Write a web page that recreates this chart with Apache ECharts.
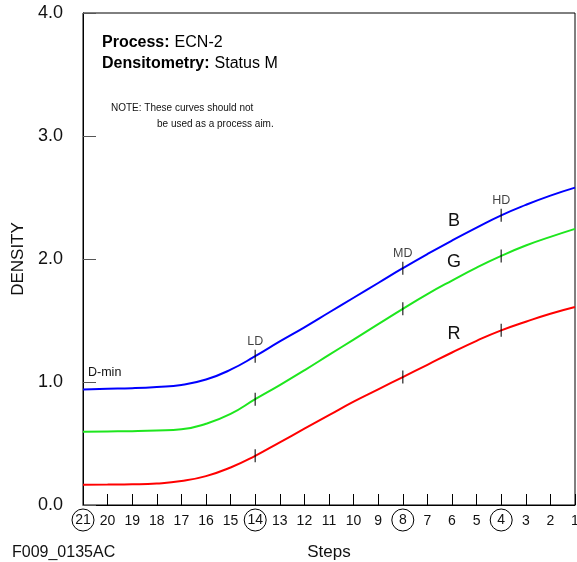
<!DOCTYPE html>
<html>
<head>
<meta charset="utf-8">
<title>ECN-2 Status M</title>
<script src="https://cdn.jsdelivr.net/npm/echarts@6/dist/echarts.min.js"></script>
<style>
  html, body { margin: 0; padding: 0; background: #fff; }
  #chart { width: 577px; height: 562px; }
</style>
</head>
<body>
<div id="chart"></div>
<script>
  // steps run 21 -> 1 (left to right)
  const steps = [21, 20, 19, 18, 17, 16, 15, 14, 13, 12, 11, 10, 9, 8, 7, 6, 5, 4, 3, 2, 1];
  const blueD = [0.94, 0.945, 0.95, 0.96, 0.976, 1.02, 1.10, 1.21, 1.33, 1.445, 1.565, 1.685, 1.805, 1.925, 2.04, 2.15, 2.255, 2.355, 2.44, 2.515, 2.58];
  const greenD = [0.596, 0.598, 0.60, 0.605, 0.615, 0.66, 0.74, 0.86, 0.975, 1.095, 1.22, 1.345, 1.47, 1.595, 1.715, 1.825, 1.93, 2.025, 2.11, 2.18, 2.245];
  const redD = [0.165, 0.166, 0.168, 0.175, 0.195, 0.235, 0.305, 0.40, 0.51, 0.62, 0.73, 0.84, 0.94, 1.04, 1.14, 1.24, 1.335, 1.42, 1.49, 1.555, 1.61];
  const markSteps = [14, 8, 4];
  const markNames = ['LD', 'MD', 'HD'];
  const circled = [21, 14, 8, 4];
  const labelStep = 6;

  const font = 'Liberation Sans, Arial, Helvetica, sans-serif';
  const chart = echarts.init(document.getElementById('chart'));

  const pairs = arr => steps.map((s, i) => [s, arr[i]]);
  const valAt = (arr, s) => arr[steps.indexOf(s)];

  function curve (name, arr, color, txt, dy) {
    return {
      name: name,
      type: 'line',
      data: pairs(arr),
      smooth: 0.5,
      symbol: 'none',
      lineStyle: { color: color, width: 2 },
      z: 3,
      markPoint: {
        symbol: 'circle',
        symbolSize: 0,
        silent: true,
        data: [{
          coord: [labelStep, valAt(arr, labelStep)],
          label: {
            show: true,
            formatter: txt,
            offset: [2, dy],
            fontSize: 18,
            fontFamily: font,
            color: '#111'
          }
        }]
      }
    };
  }

  // short vertical ticks across the curves at LD / MD / HD
  function ticks (arr, withNames) {
    return {
      type: 'scatter',
      symbol: 'rect',
      symbolSize: [1.3, 13],
      itemStyle: { color: '#000' },
      z: 5,
      silent: true,
      data: markSteps.map((s, i) => ({
        value: [s, valAt(arr, s)],
        label: withNames ? {
          show: true,
          position: 'top',
          distance: 2,
          formatter: markNames[i],
          fontSize: 12.5,
          fontFamily: font,
          color: '#111'
        } : { show: false }
      }))
    };
  }

  const labelRich = {
    n: { width: 24, height: 24, align: 'center', fontSize: 14, fontFamily: font, color: '#111' },
    c: { width: 22, height: 22, align: 'center', fontSize: 14, fontFamily: font, color: '#111',
         borderColor: '#000', borderWidth: 1, borderRadius: 12 }
  };

  chart.setOption({
    animation: false,
    backgroundColor: '#fff',
    textStyle: { fontFamily: font },
    title: {
      left: 102,
      top: 32,
      padding: 0,
      text: '{b|Process:} {n|ECN-2}\n{b|Densitometry:} {n|Status M}',
      textStyle: {
        fontWeight: 'normal',
        rich: {
          b: { fontSize: 16, fontWeight: 'bold', fontFamily: font, color: '#000', lineHeight: 21 },
          n: { fontSize: 16, fontWeight: 'normal', fontFamily: font, color: '#000', lineHeight: 21 }
        }
      }
    },
    graphic: [
      { type: 'text', left: 111, top: 103,
        style: { text: 'NOTE: These curves should not', fontSize: 10, fontFamily: font, fill: '#111' } },
      { type: 'text', left: 157, top: 119,
        style: { text: 'be used as a process aim.', fontSize: 10, fontFamily: font, fill: '#111' } },
      { type: 'text', left: 88, top: 366,
        style: { text: 'D-min', fontSize: 12.5, fontFamily: font, fill: '#111' } },
      { type: 'text', left: 12, top: 545,
        style: { text: 'F009_0135AC', fontSize: 16, fontFamily: font, fill: '#111' } }
    ],
    grid: {
      left: 83,
      right: 2,
      top: 13,
      bottom: 57,
      outerBoundsMode: 'none',
      containLabel: false,
      show: true,
      borderColor: '#000',
      borderWidth: 1,
      backgroundColor: 'transparent'
    },
    xAxis: {
      type: 'value',
      min: 1,
      max: 21,
      interval: 1,
      inverse: true,
      name: 'Steps',
      nameLocation: 'middle',
      nameGap: 39,
      nameTextStyle: { fontSize: 17, fontFamily: font, color: '#111' },
      axisLine: { lineStyle: { color: '#000', width: 1 } },
      axisTick: { inside: true, length: 11, lineStyle: { color: '#000' } },
      splitLine: { show: false },
      axisLabel: {
        margin: 4,
        showMinLabel: true,
        showMaxLabel: true,
        hideOverlap: false,
        formatter: v => circled.indexOf(v) >= 0 ? '{c|' + v + '}' : '{n|' + v + '}',
        rich: labelRich
      }
    },
    yAxis: {
      type: 'value',
      min: 0,
      max: 4,
      interval: 1,
      name: 'DENSITY',
      nameLocation: 'middle',
      nameRotate: 90,
      nameGap: 56,
      nameTextStyle: { fontSize: 17, fontFamily: font, color: '#111' },
      axisLine: { lineStyle: { color: '#000', width: 1 } },
      axisTick: { inside: true, length: 13, lineStyle: { color: '#555' } },
      splitLine: { show: false },
      axisLabel: {
        margin: 20,
        fontSize: 18,
        fontFamily: font,
        color: '#111',
        formatter: v => v.toFixed(1)
      }
    },
    series: [
      curve('B', blueD, '#0000ff', 'B', -20),
      curve('G', greenD, '#1ee61e', 'G', -18),
      curve('R', redD, '#ff0000', 'R', -18),
      ticks(blueD, true),
      ticks(greenD, false),
      ticks(redD, false)
    ]
  });
</script>
</body>
</html>
